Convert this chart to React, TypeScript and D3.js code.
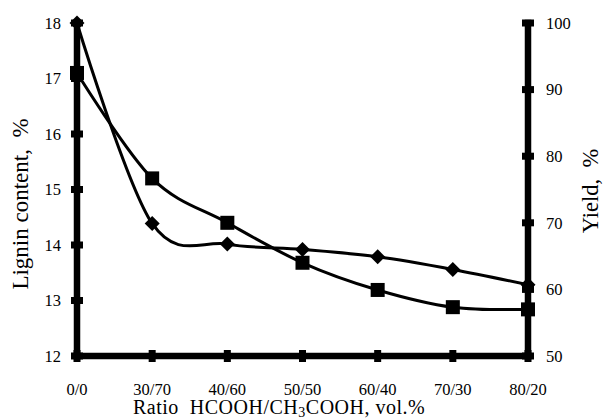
import React from 'react';
import * as d3 from 'd3';

const categories = ['0/0', '30/70', '40/60', '50/50', '60/40', '70/30', '80/20'];
// lignin content, % (left axis, squares)
const ligninValues = [17.1, 15.2, 14.4, 13.68, 13.19, 12.88, 12.84];
// yield, % (right axis, diamonds)
const yieldValues = [100, 69.9, 66.8, 66.0, 64.9, 63.0, 60.7];
const leftTicks = [12, 13, 14, 15, 16, 17, 18];
const rightTicks = [50, 60, 70, 80, 90, 100];

export default function App() {
    const width = 603;
    const height = 419;
    const left = 77;
    const right = 528;
    const top = 23;
    const bottom = 356;
    const font = 'Liberation Serif, Times New Roman, serif';

    const svgRef = React.useRef<SVGSVGElement>(null);

    React.useEffect(() => {
        const svg = d3.select(svgRef.current);
        svg.selectAll('*').remove();

        const x = d3.scalePoint<string>().domain(categories).range([left, right]);
        const yLeft = d3.scaleLinear().domain([12, 18]).range([bottom, top]);
        const yRight = d3.scaleLinear().domain([50, 100]).range([bottom, top]);

        //Axis lines.
        const axes = svg.append('g').attr('stroke', '#000').attr('stroke-width', 6.5).attr('stroke-linecap', 'square');
        axes.append('line').attr('x1', left).attr('x2', left).attr('y1', top).attr('y2', bottom);
        axes.append('line').attr('x1', right).attr('x2', right).attr('y1', top).attr('y2', bottom);
        axes.append('line').attr('x1', left).attr('x2', right).attr('y1', bottom).attr('y2', bottom);

        //Tick marks are small blocks sticking out of the thick axes.
        svg.append('g').selectAll('rect')
            .data(leftTicks)
            .enter()
            .append('rect')
            .attr('x', left - 6).attr('y', d => yLeft(d) - 3.5)
            .attr('width', 12).attr('height', 7);
        svg.append('g').selectAll('rect')
            .data(rightTicks)
            .enter()
            .append('rect')
            .attr('x', right - 6).attr('y', d => yRight(d) - 3.5)
            .attr('width', 12).attr('height', 7);
        svg.append('g').selectAll('rect')
            .data(categories)
            .enter()
            .append('rect')
            .attr('x', d => (x(d) as number) - 3.5).attr('y', bottom - 6)
            .attr('width', 7).attr('height', 12);

        //Tick labels.
        const labels = svg.append('g').style('font-family', font).style('font-size', '16.5px').attr('fill', '#000');
        labels.selectAll('.lt')
            .data(leftTicks)
            .enter()
            .append('text')
            .attr('x', 61).attr('y', d => yLeft(d)).attr('dy', '0.35em')
            .attr('text-anchor', 'end')
            .text(d => d);
        labels.selectAll('.rt')
            .data(rightTicks)
            .enter()
            .append('text')
            .attr('x', 546).attr('y', d => yRight(d)).attr('dy', '0.35em')
            .attr('text-anchor', 'start')
            .text(d => d);
        labels.selectAll('.bt')
            .data(categories)
            .enter()
            .append('text')
            .attr('x', d => x(d) as number).attr('y', 395)
            .attr('text-anchor', 'middle')
            .text(d => d);

        //Axis titles.
        const titles = svg.append('g').style('font-family', font).attr('fill', '#000');
        titles.append('text')
            .attr('transform', 'translate(28, 204) rotate(-90)')
            .attr('text-anchor', 'middle')
            .style('font-size', '23px')
            .text('Lignin content,\u00a0 %');
        titles.append('text')
            .attr('transform', 'translate(598, 191) rotate(-90)')
            .attr('text-anchor', 'middle')
            .style('font-size', '22.5px')
            .text('Yield,\u00a0 %');
        const xt = titles.append('text')
            .attr('x', 133).attr('y', 413.5)
            .style('font-size', '20px')
            .style('letter-spacing', '0.5px')
            .attr('text-anchor', 'start');
        xt.append('tspan').text('Ratio\u00a0 HCOOH/CH');
        xt.append('tspan').style('font-size', '14px').attr('dy', 3.5).text('3');
        xt.append('tspan').attr('dy', -3.5).text('COOH, vol.%');

        //Smoothed lines.
        const line = d3.line<number>()
            .x((d, i) => x(categories[i]) as number)
            .curve(d3.curveCardinal.tension(0));

        svg.append('path')
            .datum(ligninValues)
            .attr('d', line.y(d => yLeft(d)))
            .attr('fill', 'none').attr('stroke', '#000').attr('stroke-width', 3);
        svg.append('path')
            .datum(yieldValues)
            .attr('d', line.y(d => yRight(d)))
            .attr('fill', 'none').attr('stroke', '#000').attr('stroke-width', 3);

        //Markers.
        svg.append('g').selectAll('rect')
            .data(ligninValues)
            .enter()
            .append('rect')
            .attr('x', (d, i) => (x(categories[i]) as number) - 7)
            .attr('y', d => yLeft(d) - 7)
            .attr('width', 14).attr('height', 14);
        const diamond = 'M0,-7.5L7.5,0L0,7.5L-7.5,0Z';
        svg.append('g').selectAll('path')
            .data(yieldValues)
            .enter()
            .append('path')
            .attr('d', diamond)
            .attr('transform', (d, i) => `translate(${x(categories[i])}, ${yRight(d)})`);
    }, []);

    return (
        <svg ref={svgRef} width={width} height={height}
             style={{position: 'absolute', left: 0, top: 0, background: '#fff'}}></svg>
    );
}
